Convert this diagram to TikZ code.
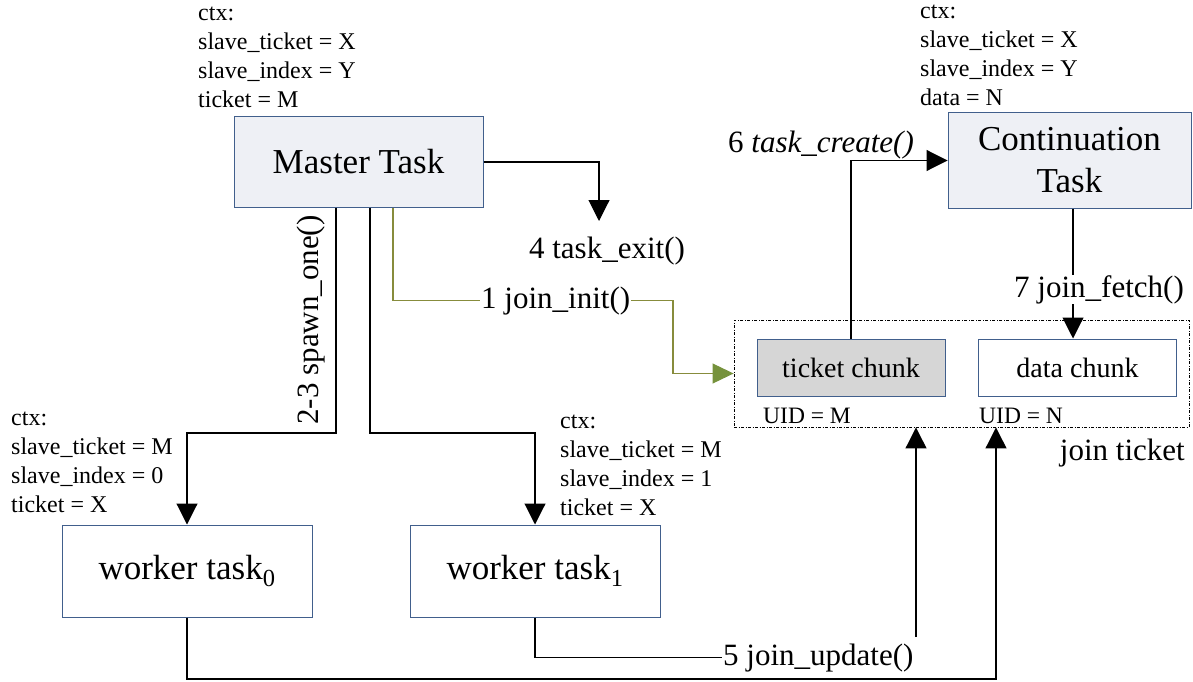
\documentclass[tikz,border=0pt]{standalone}
\usepackage{fontspec}
\setmainfont{Liberation Serif}
\usetikzlibrary{arrows.meta,calc}

\definecolor{boxline}{RGB}{65,95,140}
\definecolor{taskfill}{RGB}{238,240,245}
\definecolor{chunkfill}{RGB}{214,214,214}
\definecolor{initgreen}{RGB}{118,146,60}
\definecolor{initline}{RGB}{135,140,60}

\begin{document}
\begin{tikzpicture}[x=1pt,y=-1pt,
  taskbox/.style={draw=boxline, line width=1pt, fill=taskfill, inner sep=0pt,
    align=center, font=\fontsize{35}{42}\selectfont},
  workerbox/.style={draw=boxline, line width=1pt, fill=white, inner sep=0pt,
    minimum width=250pt, minimum height=92pt, font=\fontsize{35}{42}\selectfont},
  chunkbox/.style={draw=boxline, line width=1pt, inner sep=0pt,
    minimum height=57pt, font=\fontsize{28}{32}\selectfont},
  % multi-line context blocks are placed by the baseline of their last line
  ctxtext/.style={anchor=base west, inner sep=0pt, align=left,
    font=\fontsize{24}{29}\selectfont},
  uidtext/.style={anchor=base west, inner sep=0pt, font=\fontsize{23.5}{28}\selectfont},
  lbl/.style={inner xsep=1pt, inner ysep=0pt, font=\fontsize{31}{36}\selectfont},
  conn/.style={line width=1.1pt, draw=black},
  arr/.style={conn, -{Triangle[length=21pt,width=21pt]}},
  initconn/.style={line width=1.1pt, draw=initline},
  initarr/.style={initconn, -{Triangle[length=21pt,width=20pt,color=initgreen]}}
]
\useasboundingbox (0,0) rectangle (1193,682);

% tasks
\node[taskbox, minimum width=249pt, minimum height=90pt] (master) at (358.5,162) {Master Task};
\node[taskbox, minimum width=243pt, minimum height=95pt] (cont) at (1069.5,160.5) {Continuation\\Task};
\node[workerbox] (w0) at (187,571) {worker task\textsubscript{0}};
\node[workerbox] (w1) at (535,571) {worker task\textsubscript{1}};

% join ticket with its two chunks
\node[draw, line width=0.9pt, dash pattern=on 3pt off 1.5pt on 1pt off 1.5pt,
  minimum width=455pt, minimum height=107pt, inner sep=0pt] (jt) at (961.5,373.5) {};
\node[chunkbox, fill=chunkfill, minimum width=188pt] (tchunk) at (851,367.5) {ticket chunk};
\node[chunkbox, fill=white, minimum width=198pt] (dchunk) at (1077.5,367.5) {data chunk};
\node[uidtext] (uidm) at (763,423) {UID = M};
\node[uidtext] (uidn) at (979,423) {UID = N};
\node[anchor=base east, inner sep=0pt, font=\fontsize{31}{36}\selectfont] (jtlbl) at (1185,460) {join ticket};

% contexts
\node[ctxtext] (mctx) at (198,108) {ctx:\\slave\_ticket = X\\slave\_index = Y\\ticket = M};
\node[ctxtext] (cctx) at (920,106) {ctx:\\slave\_ticket = X\\slave\_index = Y\\data = N};
\node[ctxtext] (w0ctx) at (11,512) {ctx:\\slave\_ticket = M\\slave\_index = 0\\ticket = X};
\node[ctxtext] (w1ctx) at (560,515) {ctx:\\slave\_ticket = M\\slave\_index = 1\\ticket = X};

% step labels
\node[lbl, anchor=base] (exitlbl) at (607,258) {4 task\_exit()};
\node[lbl, anchor=base west] (init) at (480,308) {1 join\_init()};
\node[lbl, rotate=90] (spawn) at (311,320) {2-3 spawn\_one()};
\node[lbl, anchor=base west] (create) at (727,152) {6 \textit{task\_create()}};
\node[lbl, anchor=base west] (upd) at (722,665) {5 join\_update()};

% helper points
\coordinate (xa) at (336,0);
\coordinate (xb) at (370,0);
\coordinate (xg) at (393,0);
\coordinate (spawny) at (0,433);
\coordinate (bendx) at (673,0);
\coordinate (exitend) at (599,221);
\coordinate (fetchx) at (1073,0);
\coordinate (updtop) at (916,637);
\coordinate (bus) at (996,679);

% spawn
\draw[arr] (master.south -| xa) -- (xa |- spawny) -| (w0.north);
\draw[arr] (master.south -| xb) -- (xb |- spawny) -| (w1.north);
% join_init
\draw[initconn] (master.south -| xg) |- (init.west);
\draw[initarr] (init.east) -- (init.east -| bendx) |- (jt.west);
% task_exit
\draw[arr] (master.east) -| (exitend);
% task_create
\draw[arr] (tchunk.north) |- (cont.west);
% join_fetch
\draw[arr] (cont.south -| fetchx) -- (dchunk.north -| fetchx);
\node[lbl, anchor=base east, fill=white] (fetch) at (1185,297) {7 join\_fetch()};
% join_update
\draw[conn] (w1.south) |- (upd.west);
\draw[arr] (updtop) -- (updtop |- jt.south);
\draw[arr] (w0.south) |- (bus) -- (bus |- jt.south);
\end{tikzpicture}
\end{document}
